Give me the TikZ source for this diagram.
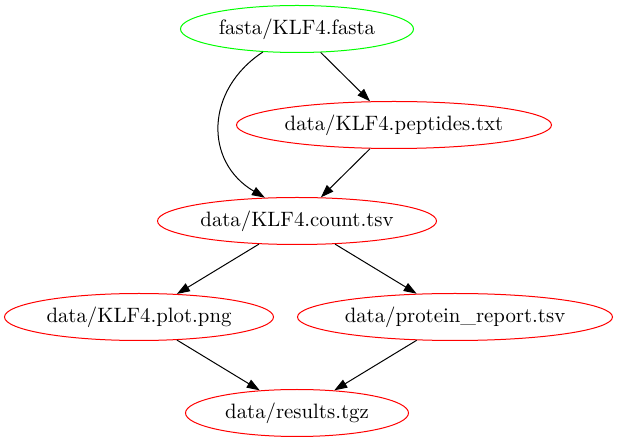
\documentclass[tikz,border=0pt]{standalone}
\usepackage{fontspec}
\setmainfont{lmroman10-regular.otf}
\usepackage{tikz}
\usetikzlibrary{arrows.meta,shapes.geometric}
\definecolor{filegreen}{RGB}{0,255,0}
\definecolor{filered}{RGB}{255,0,0}
\begin{document}
\begin{tikzpicture}[x=1pt,y=-1pt,
  file/.style={ellipse, draw=filered, line width=1pt, inner sep=0pt,
    minimum height=47pt, font=\fontsize{20.8}{25}\selectfont},
  dep/.style={line width=1pt, -{Triangle[length=13pt,width=9pt]}}]
  \useasboundingbox (0,0) rectangle (619,443);

  % One rank every 96pt, as the layout engine spaced them.
  \node[file, draw=filegreen, minimum width=233pt] (fasta) at (297,29) {fasta/KLF4.fasta};
  \node[file, minimum width=315pt] (peptides) at (394,125) {data/KLF4.peptides.txt};
  \node[file, minimum width=279pt] (count) at (297,221) {data/KLF4.count.tsv};
  \node[file, minimum width=269pt] (plot) at (139,317) {data/KLF4.plot.png};
  \node[file, minimum width=315pt] (report) at (455,317) {data/protein\_report.tsv};
  \node[file, minimum width=223pt] (results) at (297,413) {data/results.tgz};

  \draw[dep] (fasta.-146) .. controls (205,90) and (204,162) .. (count.144);
  \draw[dep] (fasta) -- (peptides);
  \draw[dep] (peptides) -- (count);
  \draw[dep] (count) -- (plot);
  \draw[dep] (count) -- (report);
  \draw[dep] (plot) -- (results);
  \draw[dep] (report) -- (results);
\end{tikzpicture}
\end{document}
